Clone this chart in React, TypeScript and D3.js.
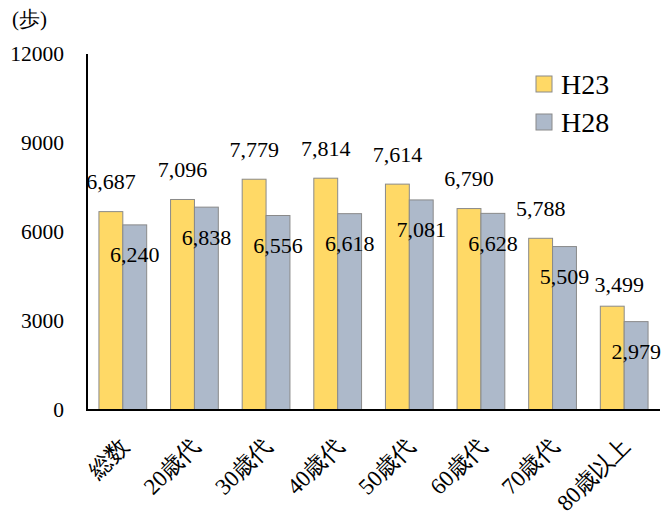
import * as d3 from "d3";

const categories = ["総数", "20歳代", "30歳代", "40歳代", "50歳代", "60歳代", "70歳代", "80歳以上"];
const seriesNames = ["H23", "H28"];
const h23 = [6687, 7096, 7779, 7814, 7614, 6790, 5788, 3499];
const h28 = [6240, 6838, 6556, 6618, 7081, 6628, 5509, 2979];
const yTicks = [0, 3000, 6000, 9000, 12000];
const colors = ["#FFD966", "#ADB9CA"];

const width = 663, height = 520;
const margin = { top: 54, right: 3, bottom: 110, left: 87 };
const font = "Liberation Serif";

const App = () => {
  const x0 = d3.scaleBand().domain(categories).range([margin.left, width - margin.right]).paddingInner(1 / 3).paddingOuter(1 / 6);
  const x1 = d3.scaleBand().domain(seriesNames).range([0, x0.bandwidth()]);
  const y = d3.scaleLinear().domain([0, 12000]).range([height - margin.bottom, margin.top]);
  const fmt = d3.format(",");
  const series = [h23, h28];

  // label position: H23 above the bar, H28 inside the bar top
  const labelPos = (i: number, k: number) => {
    let lx = x1(seriesNames[k])! + x1.bandwidth() / 2;
    let ly = k === 0 ? y(h23[i]) - 30 : y(h28[i]) + 30;
    if (k === 0 && i > 0) {
      // avoid overlap with previous group's H28 label
      const prevY = y(h28[i - 1]) + 30;
      if (Math.abs(prevY - ly) < 22) { lx += 7; ly += 8; }
    }
    return [lx, ly];
  };

  return (
    <svg width={width} height={height} style={{ position: "absolute", left: 0, top: 0, background: "#fff" }}>
      {categories.map((c, i) => (
        <g key={c} transform={`translate(${x0(c)},0)`}>
          {series.map((s, k) => (
            <rect key={k} x={x1(seriesNames[k])} y={y(s[i])} width={x1.bandwidth()} height={y(0) - y(s[i])}
              fill={colors[k]} stroke="#8a8a8a" strokeWidth={1} />
          ))}
          {series.map((s, k) => {
            const [lx, ly] = labelPos(i, k);
            return (
              <text key={"t" + k} x={lx} y={ly} textAnchor="middle" dominantBaseline="central"
                fontFamily={font} fontSize={22}>{fmt(s[i])}</text>
            );
          })}
        </g>
      ))}

      <line x1={margin.left} x2={margin.left} y1={y(12000)} y2={y(0) + 1} stroke="#000" strokeWidth={2} />
      <line x1={margin.left} x2={width - margin.right} y1={y(0)} y2={y(0)} stroke="#000" strokeWidth={2} />

      {yTicks.map((t) => (
        <text key={t} x={64} y={y(t)} textAnchor="end" dominantBaseline="central" fontFamily={font} fontSize={21.5}>{t}</text>
      ))}
      <text x={12} y={19} dominantBaseline="central" fontFamily={font} fontSize={21}>(歩)</text>

      {categories.map((c) => (
        <text key={c} transform={`translate(${x0(c)! + x0.bandwidth() / 2 + 2},${y(0) + 32}) rotate(-45)`}
          textAnchor="end" dominantBaseline="central" fontFamily={font} fontSize={23}>{c}</text>
      ))}

      {seriesNames.map((n, i) => (
        <g key={n} transform={`translate(536,${84 + i * 38})`}>
          <rect x={0} y={-8} width={16} height={16} fill={colors[i]} stroke="#8a8a8a" />
          <text x={25} y={0} dominantBaseline="central" fontFamily={font} fontSize={28}>{n}</text>
        </g>
      ))}
    </svg>
  );
};

export default App;
